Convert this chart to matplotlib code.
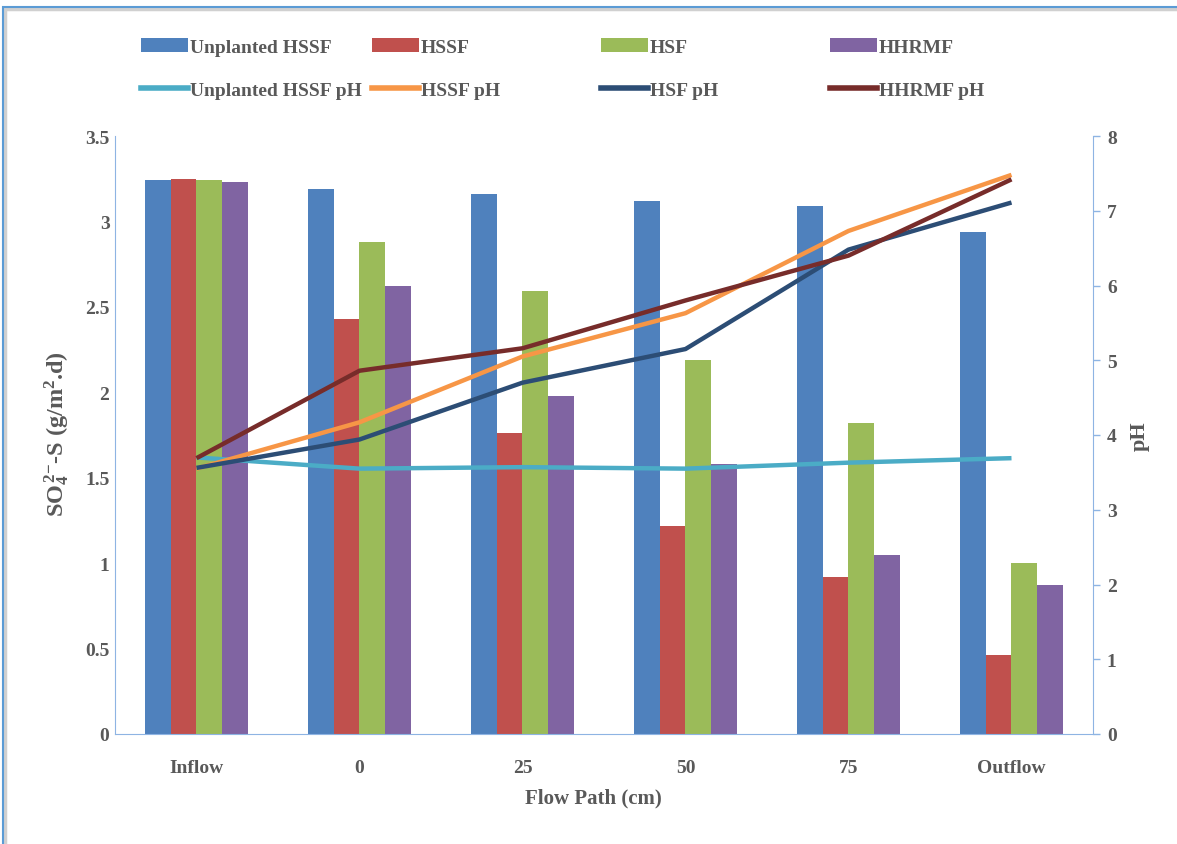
import numpy as np
import matplotlib
matplotlib.use("Agg")
import matplotlib.pyplot as plt
from matplotlib.patches import Rectangle, Patch
from matplotlib.lines import Line2D

plt.rcParams['font.family'] = ['Liberation Serif', 'DejaVu Serif']
plt.rcParams['font.weight'] = 'bold'
plt.rcParams['mathtext.fontset'] = 'custom'
plt.rcParams['mathtext.rm'] = 'Liberation Serif:bold'
plt.rcParams['mathtext.it'] = 'Liberation Serif:italic:bold'
plt.rcParams['mathtext.bf'] = 'Liberation Serif:bold'

# data
positions = ['Inflow', '0', '25', '50', '75', 'Outflow']
so4_unplanted = [3.24, 3.19, 3.16, 3.12, 3.09, 2.94]
so4_hssf = [3.25, 2.43, 1.76, 1.22, 0.92, 0.46]
so4_hsf = [3.24, 2.88, 2.59, 2.19, 1.82, 1.00]
so4_hhrmf = [3.23, 2.62, 1.98, 1.58, 1.05, 0.87]

ph_unplanted = [3.70, 3.55, 3.57, 3.55, 3.63, 3.69]
ph_hssf = [3.55, 4.17, 5.05, 5.63, 6.73, 7.48]
ph_hsf = [3.56, 3.94, 4.70, 5.15, 6.48, 7.11]
ph_hhrmf = [3.69, 4.86, 5.16, 5.80, 6.40, 7.42]

bar_names = ['Unplanted HSSF', 'HSSF', 'HSF', 'HHRMF']
line_names = ['Unplanted HSSF pH', 'HSSF pH', 'HSF pH', 'HHRMF pH']
bar_colors = ['#4F81BD', '#C0504D', '#9BBB59', '#8064A2']
line_colors = ['#4BACC6', '#F79646', '#2C4D75', '#772C2A']

grey = '#595959'
spine_col = '#8EB4E3'

fig = plt.figure(figsize=(11.77, 8.45), dpi=100)
W, H = 1177, 845
ax = fig.add_axes([115 / W, 1 - 735 / H, (1093 - 115) / W, (735 - 137) / H])
ax2 = ax.twinx()

x = np.arange(len(positions))
w = 0.157
bar_handles = []
for i, (vals, c) in enumerate(zip([so4_unplanted, so4_hssf, so4_hsf, so4_hhrmf], bar_colors)):
    ax.bar(x + (i - 1.5) * w, vals, width=w, color=c, edgecolor='none')
    bar_handles.append(Patch(facecolor=c, edgecolor='none'))

line_handles = []
for vals, c in zip([ph_unplanted, ph_hssf, ph_hsf, ph_hhrmf], line_colors):
    ax2.plot(x, vals, color=c, lw=3.2, solid_capstyle='butt')
    line_handles.append(Line2D([], [], color=c, lw=4))

ax.set_xlim(-0.5, 5.5)
ax.set_ylim(0, 3.5)
ax2.set_ylim(0, 8)
ax.set_yticks(np.arange(0, 3.51, 0.5))
ax.set_yticklabels(['0', '0.5', '1', '1.5', '2', '2.5', '3', '3.5'])
ax2.set_yticks(range(0, 9))
ax.set_xticks(x)
ax.set_xticklabels(positions)

for a in (ax, ax2):
    for s in a.spines.values():
        s.set_color(spine_col)
    a.spines['top'].set_visible(False)
ax2.spines['left'].set_visible(False)
ax.spines['right'].set_visible(False)
ax2.spines['bottom'].set_visible(False)

ax.tick_params(axis='y', length=0, pad=4, labelsize=14, labelcolor=grey)
ax.tick_params(axis='x', length=0, pad=18, labelsize=14, labelcolor=grey)
ax2.tick_params(axis='y', length=5, width=1, color=spine_col, direction='out', pad=5,
                labelsize=14, labelcolor=grey)

fig.text(593 / W, 1 - 798 / H, 'Flow Path (cm)', ha='center', va='center',
         fontsize=15, color=grey)
fig.text(57 / W, 1 - 434 / H, r'SO$_4^{\,2\mathrm{-}}$-S (g/m$^2$.d)', ha='center', va='center',
         rotation=90, fontsize=17.5, color=grey)
fig.text(1140 / W, 1 - 436 / H, 'pH', ha='center', va='center', rotation=90,
         fontsize=16, color=grey)

# legend: four columns, bars on the first row, pH lines below
col_x = [141, 372, 601, 830]
for i in range(4):
    leg = fig.legend(handles=[bar_handles[i], line_handles[i]],
                     labels=[bar_names[i], line_names[i]],
                     loc='upper left', bbox_to_anchor=(col_x[i] / W, 1 - 39 / H),
                     frameon=False, fontsize=14, handlelength=2.4, handleheight=0.75,
                     handletextpad=0.1, labelspacing=1.3, borderpad=0, borderaxespad=0,
                     labelcolor=grey)

# outer frame
fig.patches.append(Rectangle((5 / W, -0.1), 1.2, (H - 10) / H + 0.1, transform=fig.transFigure,
                             fill=False, edgecolor='#D0D0D0', lw=2.5))
fig.patches.append(Rectangle((3 / W, -0.1), 1.2, (H - 8) / H + 0.1, transform=fig.transFigure,
                             fill=False, edgecolor='#5B9BD5', lw=1.5))

fig.savefig('out.png', dpi=100)
